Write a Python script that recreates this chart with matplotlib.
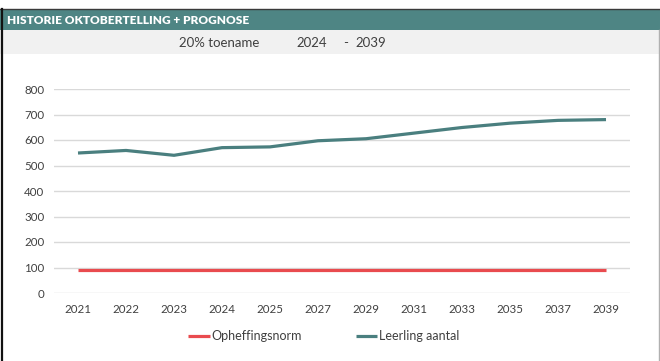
import matplotlib
matplotlib.use("Agg")
import matplotlib.pyplot as plt
from matplotlib.patches import Rectangle
from matplotlib.lines import Line2D

# Data
years = ["2021", "2022", "2023", "2024", "2025", "2027", "2029",
         "2031", "2033", "2035", "2037", "2039"]
leerling_aantal = [549, 559, 540, 570, 573, 597, 605, 627, 649, 666, 677, 680]
opheffingsnorm = [89] * len(years)
y_ticks = [0, 100, 200, 300, 400, 500, 600, 700, 800]

title = "HISTORIE OKTOBERTELLING + PROGNOSE"
subtitle_parts = [("20% toename", 219), ("2024", 312), ("-", 346), ("2039", 371)]

W, H = 660, 361
teal_header = "#4E8584"
teal_line = "#4A7F7F"
red_line = "#E94B4F"
grid_col = "#D9D9D9"
text_col = "#404040"

plt.rcParams["font.family"] = ["Lato", "DejaVu Sans"]

fig = plt.figure(figsize=(W / 100, H / 100), dpi=100)
fig.patch.set_facecolor("white")

def fx(px):
    return px / W

def fy(py):
    return 1 - py / H

# Header band and subtitle band
fig.patches.append(Rectangle((fx(0), fy(30.5)), 1, (30.5 - 9) / H,
                             transform=fig.transFigure, facecolor=teal_header,
                             edgecolor="none", zorder=0))
fig.patches.append(Rectangle((fx(0), fy(53.5)), 1, (53.5 - 30.5) / H,
                             transform=fig.transFigure, facecolor="#F1F1F1",
                             edgecolor="none", zorder=0))
# Frame lines
fig.lines.append(Line2D([0, 1], [fy(8.5), fy(8.5)], transform=fig.transFigure,
                        color="#3A3A3A", lw=1.0))
fig.lines.append(Line2D([fx(1.5), fx(1.5)], [fy(8.5), 0], transform=fig.transFigure,
                        color="#111111", lw=1.6))
fig.lines.append(Line2D([fx(659), fx(659)], [fy(30), 0], transform=fig.transFigure,
                        color="#B0B0B0", lw=1.0))

fig.text(fx(7), fy(20), title, color="white", fontsize=8.6, fontweight="heavy",
         va="center", ha="left")
for txt, cx in subtitle_parts:
    fig.text(fx(cx), fy(43), txt, color=text_col, fontsize=9.5, va="center", ha="center")

# Chart
ax = fig.add_axes([fx(54), fy(293), (630 - 54) / W, (293 - 89) / H])
x = list(range(len(years)))
ax.plot(x, opheffingsnorm, color=red_line, lw=2.3, solid_capstyle="butt",
        label="Opheffingsnorm", zorder=3)
ax.plot(x, leerling_aantal, color=teal_line, lw=2.3, solid_capstyle="butt",
        label="Leerling aantal", zorder=3)

ax.set_xlim(-0.5, len(years) - 0.5)
ax.set_ylim(0, 800)
ax.set_yticks(y_ticks)
ax.set_yticklabels([str(v) for v in y_ticks])
ax.set_xticks(x)
ax.set_xticklabels(years)
ax.tick_params(axis="both", length=0, labelsize=8.3, colors=text_col)
ax.tick_params(axis="x", pad=8)
ax.tick_params(axis="y", pad=7)
ax.yaxis.grid(True, color=grid_col, lw=1.0)
ax.set_axisbelow(True)
for s in ax.spines.values():
    s.set_visible(False)

handles, labels = ax.get_legend_handles_labels()
fig.legend(handles, labels, loc="center left", bbox_to_anchor=(fx(177), fy(336)),
           ncol=2, frameon=False, fontsize=9, handlelength=1.7, handletextpad=0.15,
           columnspacing=4.3, labelcolor=text_col)

fig.savefig("out.png", dpi=100, facecolor="white")
